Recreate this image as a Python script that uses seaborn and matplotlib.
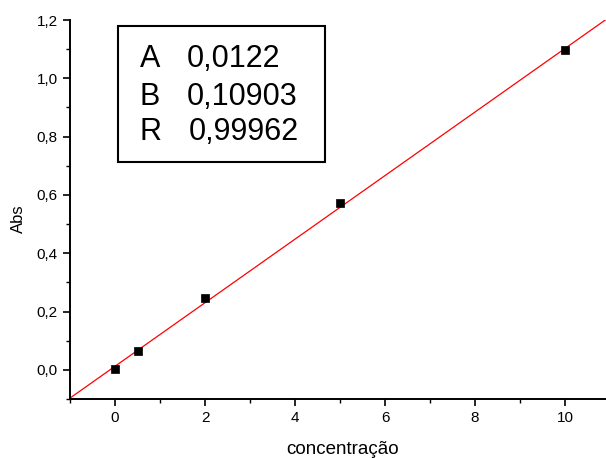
import matplotlib
matplotlib.use("Agg")
import matplotlib.pyplot as plt
import seaborn as sns
import pandas as pd
from matplotlib.ticker import MultipleLocator, FixedLocator

# data
concentracao = [0, 0.5, 2, 5, 10]
abs_values = [0.003, 0.065, 0.248, 0.572, 1.098]
fit_A = 0.0122
fit_B = 0.10903
fit_R = 0.99962
box_labels = ["A", "B", "R"]
box_values = ["0,0122", "0,10903", "0,99962"]
x_ticks = [0, 2, 4, 6, 8, 10]
x_tick_labels = ["0", "2", "4", "6", "8", "10"]
y_ticks = [0.0, 0.2, 0.4, 0.6, 0.8, 1.0, 1.2]
y_tick_labels = ["0,0", "0,2", "0,4", "0,6", "0,8", "1,0", "1,2"]

sns.set_style("ticks")
plt.rcParams['font.family'] = ['Liberation Sans', 'DejaVu Sans']
plt.rcParams['text.color'] = 'black'
plt.rcParams['axes.labelcolor'] = 'black'
plt.rcParams['xtick.color'] = 'black'
plt.rcParams['ytick.color'] = 'black'

W, H = 606, 458
fig = plt.figure(figsize=(W / 100, H / 100), dpi=100)
ax = fig.add_axes([70 / W, (H - 399) / H, 1 - 70 / W, (399 - 20) / H])

df = pd.DataFrame({"concentração": concentracao, "Abs": abs_values})

ax.axline((0, fit_A), slope=fit_B, color="red", lw=0.9, zorder=2)
sns.scatterplot(data=df, x="concentração", y="Abs", ax=ax, marker="s",
                s=36, color="black", edgecolor="black", linewidth=0.5, zorder=3)

ax.set_xlim(-1.0, 10.91)
ax.set_ylim(-0.1, 1.2)
ax.xaxis.set_major_locator(FixedLocator(x_ticks))
ax.set_xticklabels(x_tick_labels)
ax.yaxis.set_major_locator(FixedLocator(y_ticks))
ax.set_yticklabels(y_tick_labels)
ax.xaxis.set_minor_locator(MultipleLocator(1))
ax.yaxis.set_minor_locator(MultipleLocator(0.1))
ax.tick_params(which="major", direction="out", length=5, width=1.2, labelsize=11, pad=4,
               colors="black")
ax.tick_params(which="minor", direction="out", length=3, width=1.0, colors="black")

for side in ["top", "right"]:
    ax.spines[side].set_visible(False)
for side in ["left", "bottom"]:
    ax.spines[side].set_linewidth(1.4)
    ax.spines[side].set_color("black")

ax.set_xlabel("concentração", fontsize=13.5, color="black")
ax.set_ylabel("Abs", fontsize=12, color="black")
ax.xaxis.set_label_coords(0.508, -0.112)
ax.yaxis.set_label_coords(-0.082, 0.475)

# text box
box = plt.Rectangle((118 / W, 1 - 162 / H), (325 - 118) / W, (162 - 26) / H,
                    transform=fig.transFigure, fill=False, edgecolor="black", lw=1.5)
fig.add_artist(box)
baselines = [67, 105, 140]
value_x = [187, 187, 189]
for lab, val, yb, vx in zip(box_labels, box_values, baselines, value_x):
    fig.text(140 / W, 1 - yb / H, lab, fontsize=22, va="baseline", ha="left", color="black")
    fig.text(vx / W, 1 - yb / H, val, fontsize=22, va="baseline", ha="left", color="black")

fig.savefig("out.png", dpi=100)
